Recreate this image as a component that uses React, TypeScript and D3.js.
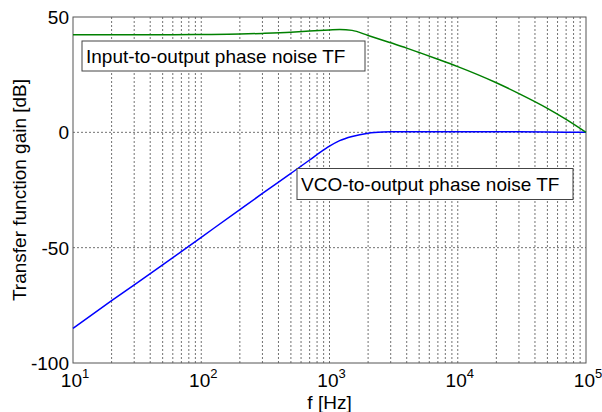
import React from "react";
import * as d3 from "d3";

const inputFreqs = [10, 30, 60, 100, 200, 300, 500, 700, 1000, 1200, 1500, 2000, 3000, 4000, 5000, 7000, 10000, 20000, 30000, 50000, 70000, 100000];
const inputGain = [42.3, 42.3, 42.3, 42.4, 42.6, 42.9, 43.4, 43.9, 44.4, 44.6, 44.2, 42.0, 38.8, 36.5, 34.6, 31.7, 28.5, 21.5, 16.8, 10.4, 5.6, 0];

const vcoFreqs = [10, 20, 50, 100, 200, 300, 500, 700, 850, 1000, 1200, 1500, 2000, 2600, 3000, 5000, 10000, 30000, 100000];
const vcoGain = [-85, -73, -57.5, -45.5, -33.5, -26.5, -17.8, -12, -8.6, -6.0, -3.6, -1.8, -0.4, 0.1, 0.2, 0.3, 0.3, 0.3, 0];

const yTicks = [50, 0, -50, -100];
const xDecades = [1, 2, 3, 4, 5];
const labelInput = "Input-to-output phase noise TF";
const labelVco = "VCO-to-output phase noise TF";

const W = 602, H = 412;
const L = 73, R = 586, T = 17, B = 363;
const FONT = "'Liberation Sans', Arial, Helvetica, sans-serif";

export default function App() {
  const x = d3.scaleLog().domain([10, 100000]).range([L, R]);
  const y = d3.scaleLinear().domain([-100, 50]).range([B, T]);

  const minor: number[] = [];
  for (let e = 1; e < 5; e++) {
    for (let m = 1; m <= 9; m++) {
      const v = m * Math.pow(10, e);
      if (v > 10) minor.push(v);
    }
  }

  const line = d3
    .line<[number, number]>()
    .x((d) => x(d[0]))
    .y((d) => y(d[1]))
    .curve(d3.curveMonotoneX);

  const inputPath = line(inputFreqs.map((f, i) => [f, inputGain[i]]) as [number, number][]) || "";
  const vcoPath = line(vcoFreqs.map((f, i) => [f, vcoGain[i]]) as [number, number][]) || "";

  return (
    <svg width={W} height={H} style={{ position: "absolute", left: 0, top: 0, background: "#fff" }} fontFamily={FONT}>
      <rect x={0} y={0} width={W} height={H} fill="#fff" />
      {minor.filter((v) => v < 100000).map((v) => (
        <line key={"gx" + v} x1={x(v)} x2={x(v)} y1={T} y2={B} stroke="#444" strokeWidth={1} strokeDasharray="2,2" opacity={0.75} />
      ))}
      {yTicks.filter((t) => t !== 50 && t !== -100).map((t) => (
        <line key={"gy" + t} x1={L} x2={R} y1={y(t)} y2={y(t)} stroke="#444" strokeWidth={1} strokeDasharray="2,2" opacity={0.75} />
      ))}
      <rect x={L} y={T} width={R - L} height={B - T} fill="none" stroke="#555" strokeWidth={1} />
      <path d={vcoPath} fill="none" stroke="#0000ff" strokeWidth={1.5} />
      <path d={inputPath} fill="none" stroke="#008000" strokeWidth={1.5} />
      <rect x={82} y={41} width={283} height={30} fill="#fff" stroke="#444" strokeWidth={1} />
      <text x={86} y={62.5} fontSize={19} fill="#000">{labelInput}</text>
      <rect x={297} y={168.5} width={276} height={31} fill="#fff" stroke="#444" strokeWidth={1} />
      <text x={301} y={190.5} fontSize={19} fill="#000">{labelVco}</text>
      {yTicks.map((t) => (
        <text key={"yl" + t} x={L - 4} y={y(t) + 7} fontSize={19} textAnchor="end" fill="#000">{t}</text>
      ))}
      {xDecades.map((e) => (
        <text key={"xl" + e} x={x(Math.pow(10, e)) + 2} y={387} fontSize={19} textAnchor="middle" fill="#000">
          10<tspan dy={-9} fontSize={13}>{e}</tspan>
        </text>
      ))}
      <text x={(L + R) / 2} y={409} fontSize={19} textAnchor="middle" fill="#000">f [Hz]</text>
      <text transform={`translate(26,${(T + B) / 2}) rotate(-90)`} fontSize={19} textAnchor="middle" fill="#000">Transfer function gain [dB]</text>
    </svg>
  );
}
